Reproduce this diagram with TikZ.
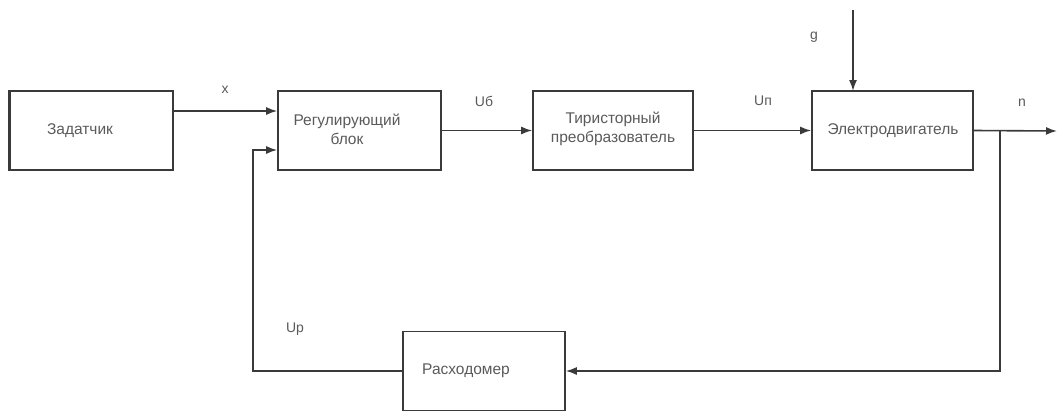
\documentclass[tikz,border=0pt]{standalone}
\usepackage{fontspec}
\setmainfont{Liberation Sans}
\usetikzlibrary{arrows.meta}
\definecolor{ink}{HTML}{3A3A3A}
\definecolor{txt}{HTML}{5A5A5A}
\begin{document}
\begin{tikzpicture}[x=1pt,y=-1pt,
  blockbox/.style={draw=ink,line width=1.6pt,minimum width=163pt,minimum height=79pt,inner sep=0pt},
  lbl/.style={text=txt,font=\fontsize{15.5}{18}\selectfont,inner sep=0pt,align=center},
  sig/.style={text=txt,font=\fontsize{14}{16}\selectfont,inner sep=0pt},
  wire/.style={draw=ink,line width=1.6pt},
  flow/.style={wire,-{Latex[length=11pt,width=8pt]}}]
\useasboundingbox (0,0) rectangle (1057,412);

% blocks
\node[blockbox] (zad) at (91.5,130.5) {};
\draw[ink,line width=2.8pt] (zad.north west) -- (zad.south west);
\node[blockbox] (reg) at (359.5,130.5) {};
\node[blockbox,minimum width=160pt] (tir) at (613,130.5) {};
\node[blockbox,minimum width=161pt] (mot) at (892.5,130.5) {};
\node[blockbox,minimum width=162pt] (ras) at (484,371) {};

% block texts
\node[lbl] (tzad) at (80,131) {Задатчик};
\node[lbl] (treg) at (347,129) {Регулирующий\\[1pt]блок};
\node[lbl] (ttir) at (613,129) {Тиристорный\\[1pt]преобразователь};
\node[lbl] (tmot) at (893,131) {Электродвигатель};
\node[lbl] (tras) at (466,371) {Расходомер};

% connection points
\coordinate (regin1) at (reg.west |- 0,111);
\coordinate (regin2) at (reg.west |- 0,150);
\coordinate (zadout) at (zad.east |- 0,111);
\coordinate (fbl) at (253,150);
\coordinate (fbb) at (253,371);
\coordinate (branch) at (1000,131);
\coordinate (branchb) at (1000,371);
\coordinate (outn) at (1057,131);
\coordinate (gtop) at (853,10);
\coordinate (gin) at (853,91);

% forward path
\draw[flow] (zadout) -- (regin1);
\draw[flow] (reg.east) -- (tir.west);
\draw[flow] (tir.east) -- (mot.west);
\draw[flow] (mot.east) -- (outn);
\draw[flow] (gtop) -- (gin);

% feedback path
\draw[flow] (branch) -- (branchb) -- (ras.east);
\draw[flow] (ras.west) -- (fbb) -- (fbl) -- (regin2);

% signal labels
\node[sig] (lx) at (225,90) {x};
\node[sig] (lub) at (484,101) {Uб};
\node[sig] (lun) at (763,101) {Uп};
\node[sig] (ln) at (1022,103) {n};
\node[sig] (lg) at (814,37) {g};
\node[sig] (lup) at (295,329) {Up};
\end{tikzpicture}
\end{document}
